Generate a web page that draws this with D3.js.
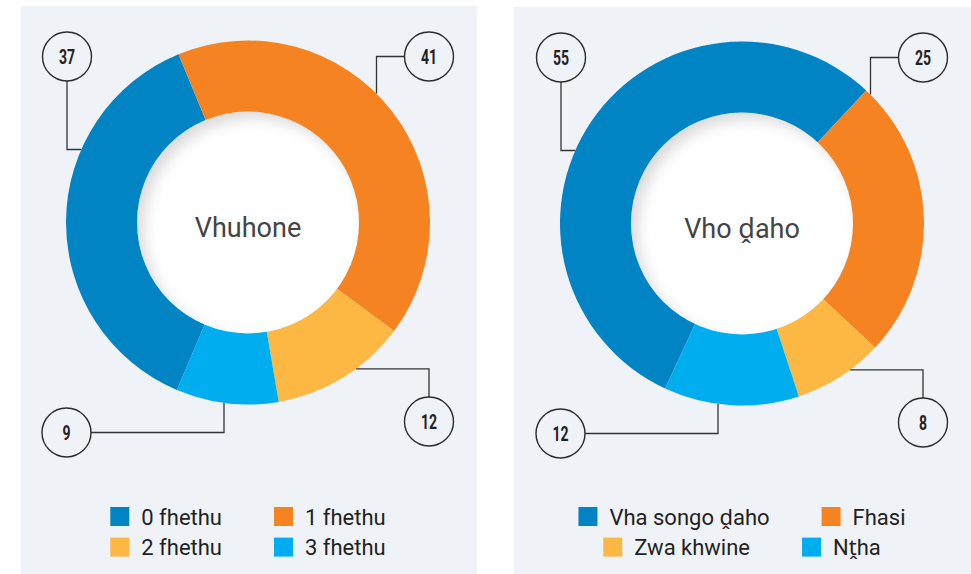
<!DOCTYPE html>
<html>
<head>
<meta charset="utf-8">
<script src="https://cdn.jsdelivr.net/npm/d3@7"></script>
<style>
  html, body { margin: 0; padding: 0; background: #ffffff; }
  svg { display: block; }
  .title { font-family: Roboto, "Noto Sans", sans-serif; }
  .legend-text { font-family: Roboto, "Noto Sans", sans-serif; }
  .badge-text { font-family: Roboto, "Noto Sans", sans-serif; font-weight: bold; }
</style>
</head>
<body>
<svg id="chart" width="971" height="574"></svg>
<script>
// Household survey results: two donut charts
const leftTitle = "Vhuhone";
const leftCategories = ["0 fhethu", "1 fhethu", "2 fhethu", "3 fhethu"];
const leftValues = [37, 41, 12, 9];

const rightTitle = "Vho ḓaho";
const rightCategories = ["Vha songo ḓaho", "Fhasi", "Zwa khwine", "Nṱha"];
const rightValues = [55, 25, 8, 12];

const sliceColors = ["#0084C3", "#F58321", "#FDB743", "#00AEEF"];

// which corner each slice's value badge sits in
const calloutCorners = ["tl", "tr", "br", "bl"];

const svg = d3.select("#chart");

// inner shadow for the white centre disc
const defs = svg.append("defs");
const f = defs.append("filter").attr("id", "innerShadow")
  .attr("x", "-20%").attr("y", "-20%").attr("width", "140%").attr("height", "140%");
f.append("feOffset").attr("in", "SourceAlpha").attr("dx", 7).attr("dy", 7).attr("result", "off");
f.append("feGaussianBlur").attr("in", "off").attr("stdDeviation", 7).attr("result", "blur");
f.append("feComposite").attr("in", "SourceAlpha").attr("in2", "blur").attr("operator", "out").attr("result", "edge");
f.append("feFlood").attr("flood-color", "#000").attr("flood-opacity", 0.3).attr("result", "col");
f.append("feComposite").attr("in", "col").attr("in2", "edge").attr("operator", "in").attr("result", "shadow");
const merge = f.append("feMerge");
merge.append("feMergeNode").attr("in", "SourceGraphic");
merge.append("feMergeNode").attr("in", "shadow");

const outerR = 182, innerR = 111, badgeR = 24.5;

function drawPanel(cfg) {
  const g = svg.append("g");
  g.append("rect")
    .attr("x", cfg.panel[0]).attr("y", cfg.panel[1])
    .attr("width", cfg.panel[2]).attr("height", cfg.panel[3])
    .attr("fill", "#EFF3F8");

  const cg = g.append("g").attr("transform", `translate(${cfg.cx},${cfg.cy})`);
  const pie = d3.pie().sort(null)
    .startAngle(cfg.start * Math.PI / 180)
    .endAngle(cfg.start * Math.PI / 180 + 2 * Math.PI);
  const arc = d3.arc().innerRadius(innerR - 1).outerRadius(outerR);
  const color = d3.scaleOrdinal().domain(cfg.categories).range(sliceColors);
  const arcs = pie(cfg.values);

  cg.selectAll("path.slice").data(arcs).join("path")
    .attr("class", "slice")
    .attr("d", arc)
    .attr("fill", (d, i) => color(cfg.categories[i]));

  cg.append("circle").attr("r", innerR).attr("fill", "#ffffff")
    .attr("filter", "url(#innerShadow)");

  cg.append("text").attr("class", "title")
    .attr("x", 0).attr("y", 14)
    .attr("text-anchor", "middle")
    .attr("font-size", 27).attr("fill", "#444")
    .text(cfg.title);

  // value badges with elbow leader lines to the ring
  const R = outerR;
  arcs.forEach((d, i) => {
    const corner = calloutCorners[i];
    let bx, by, pts;
    if (corner === "tl") {
      bx = -181; by = -166;
      const yl = -73, xe = -Math.sqrt(R * R - yl * yl);
      pts = [[bx, by + badgeR], [bx, yl], [xe, yl]];
    } else if (corner === "tr") {
      bx = 181; by = -166;
      const xl = 128.5, ye = -Math.sqrt(R * R - xl * xl);
      pts = [[bx - badgeR, by], [xl, by], [xl, ye]];
    } else if (corner === "br") {
      bx = 181; by = 199;
      const yl = 146.4, xe = Math.sqrt(R * R - yl * yl);
      pts = [[bx, by - badgeR], [bx, yl], [xe, yl]];
    } else {
      bx = -181.5; by = 210;
      const xl = -24, ye = Math.sqrt(R * R - xl * xl);
      pts = [[bx + badgeR, by], [xl, by], [xl, ye]];
    }
    cg.append("path")
      .attr("d", d3.line()(pts))
      .attr("fill", "none").attr("stroke", "#333").attr("stroke-width", 1.3);
    cg.append("circle").attr("cx", bx).attr("cy", by).attr("r", badgeR)
      .attr("fill", "none").attr("stroke", "#2b2b2b").attr("stroke-width", 1.4);
    // condensed bold figures
    cg.append("text").attr("class", "badge-text")
      .attr("transform", `translate(${bx},${by + 7}) scale(0.72,1)`)
      .attr("text-anchor", "middle")
      .attr("font-size", 19.5).attr("fill", "#222")
      .text(d.data);
  });

  // legend: two centred rows of two entries
  const rows = [[0, 1], [2, 3]];
  const sq = 19, gapText = 12, gapItem = 52;
  rows.forEach((row, r) => {
    const rg = g.append("g");
    let x = 0;
    row.forEach((idx, k) => {
      if (k > 0) x += gapItem;
      rg.append("rect").attr("x", x).attr("y", 0).attr("width", sq).attr("height", sq)
        .attr("fill", color(cfg.categories[idx]));
      const t = rg.append("text").attr("class", "legend-text")
        .attr("x", x + sq + gapText).attr("y", 17.5)
        .attr("font-size", 22).attr("fill", "#231F20")
        .text(cfg.categories[idx]);
      x += sq + gapText + t.node().getComputedTextLength();
    });
    rg.attr("transform", `translate(${cfg.cx - x / 2},${507 + r * 30.6})`);
  });
}

drawPanel({
  panel: [21, 6, 456, 570],
  cx: 248, cy: 222.5, start: -157,
  title: leftTitle, categories: leftCategories, values: leftValues
});
drawPanel({
  panel: [514, 7, 460, 570],
  cx: 742, cy: 223.5, start: -155,
  title: rightTitle, categories: rightCategories, values: rightValues
});
</script>
</body>
</html>
